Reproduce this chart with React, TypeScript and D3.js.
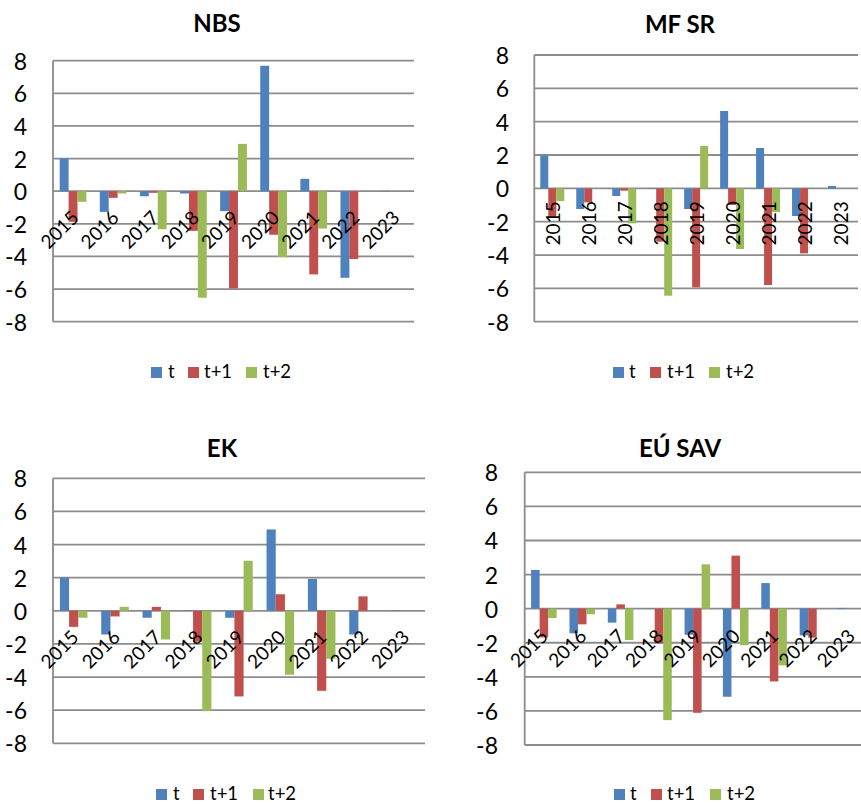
import React from "react";
import * as d3 from "d3";

const years = ["2015", "2016", "2017", "2018", "2019", "2020", "2021", "2022", "2023"];
const seriesNames = ["t", "t+1", "t+2"];
const seriesColors = ["#4F81BD", "#C0504D", "#9BBB59"];
const yTicks = [-8, -6, -4, -2, 0, 2, 4, 6, 8];

// NBS
const nbsT = [2.0, -1.27, -0.31, -0.14, -1.22, 7.69, 0.76, -5.31, 0.03];
const nbsT1 = [-1.88, -0.41, -0.1, -2.43, -5.96, -2.67, -5.1, -4.16, 0];
const nbsT2 = [-0.65, -0.14, -2.33, -6.53, 2.9, -4.04, -2.29, 0, 0];

// MF SR
const mfT = [1.96, -1.24, -0.46, -0.02, -1.24, 4.64, 2.42, -1.66, 0.14];
const mfT1 = [-1.7, -0.84, -0.14, -3.2, -5.94, -1.0, -5.8, -3.9, 0];
const mfT2 = [-0.76, -0.02, -2.1, -6.44, 2.54, -3.64, -1.42, 0, 0];

// EK
const ekT = [2.0, -1.43, -0.42, 0.03, -0.42, 4.91, 1.93, -1.43, 0.03];
const ekT1 = [-0.97, -0.34, 0.24, -1.87, -5.17, 1.0, -4.83, 0.87, 0];
const ekT2 = [-0.42, 0.24, -1.73, -6.06, 3.02, -3.86, -2.9, 0, 0];

// EÚ SAV
const savT = [2.27, -1.45, -0.82, -0.02, -1.53, -5.17, 1.5, -1.57, 0.04];
const savT1 = [-1.69, -0.92, 0.25, -2.04, -6.11, 3.11, -4.27, -1.7, 0];
const savT2 = [-0.55, -0.33, -1.84, -6.54, 2.6, -2.15, -3.33, 0, 0];

type PanelProps = {
    title: string;
    values: number[][];
    box: { x0: number; x1: number; top: number; bottom: number };
    titlePos: [number, number];
    tickRight: number;
    labelRotate: number;
    labelOffset: [number, number];
    legendSquares: number[];
    legendTexts: number[];
    legendBaseline: number;
};

const Panel: React.FC<PanelProps> = ({
    title,
    values,
    box,
    titlePos,
    tickRight,
    labelRotate,
    labelOffset,
    legendSquares,
    legendTexts,
    legendBaseline,
}) => {
    const x = d3.scaleBand<string>().domain(years).range([box.x0, box.x1]).padding(0);
    const w = x.bandwidth();
    const b = w / 4.5; // gap width 150%
    const xs = d3.scaleBand<string>().domain(seriesNames).range([0.75 * b, w - 0.75 * b]).padding(0);
    const y = d3.scaleLinear().domain([-8, 8]).range([box.bottom, box.top]);
    const gridColor = "#8c8c8c";

    return (
        <g>
            <text x={titlePos[0]} y={titlePos[1]} textAnchor="middle" fontWeight="bold" fontSize={24}>
                {title}
            </text>
            {yTicks.map((t) => (
                <g key={t}>
                    <line x1={box.x0} x2={box.x1} y1={y(t)} y2={y(t)} stroke={gridColor} strokeWidth={1.8} />
                    <text x={tickRight} y={y(t)} textAnchor="end" dominantBaseline="central" fontSize={23}>
                        {t}
                    </text>
                </g>
            ))}
            <line x1={box.x0} x2={box.x0} y1={box.top} y2={box.bottom} stroke={gridColor} strokeWidth={1.8} />
            {values.map((vals, si) =>
                vals.map((v, i) => (
                    <rect
                        key={`${si}-${i}`}
                        x={(x(years[i]) ?? 0) + (xs(seriesNames[si]) ?? 0)}
                        y={y(Math.max(v, 0))}
                        width={xs.bandwidth()}
                        height={Math.abs(y(v) - y(0))}
                        fill={seriesColors[si]}
                    />
                ))
            )}
            {years.map((yr) => {
                const cx = (x(yr) ?? 0) + w / 2 + labelOffset[0];
                const cy = y(0) + labelOffset[1];
                return (
                    <text
                        key={yr}
                        x={cx}
                        y={cy}
                        textAnchor="middle"
                        dominantBaseline="central"
                        fontSize={19}
                        transform={`rotate(${labelRotate} ${cx} ${cy})`}
                    >
                        {yr}
                    </text>
                );
            })}
            {seriesNames.map((s, i) => (
                <g key={s}>
                    <rect x={legendSquares[i]} y={legendBaseline - 11} width={11} height={11} fill={seriesColors[i]} />
                    <text x={legendTexts[i]} y={legendBaseline} fontSize={18.5}>
                        {s}
                    </text>
                </g>
            ))}
        </g>
    );
};

export default function App() {
    return (
        <svg
            width={861}
            height={804}
            style={{ position: "absolute", left: 0, top: 0, background: "#fff" }}
            fontFamily="Lato, 'Open Sans', sans-serif"
        >
            <rect width={861} height={804} fill="#fff" />
            <Panel
                title="NBS"
                values={[nbsT, nbsT1, nbsT2]}
                box={{ x0: 53, x1: 414, top: 60.7, bottom: 321.7 }}
                titlePos={[217, 32]}
                tickRight={27}
                labelRotate={-45}
                labelOffset={[-14, 38]}
                legendSquares={[151, 188, 246]}
                legendTexts={[168, 204, 263]}
                legendBaseline={378}
            />
            <Panel
                title="MF SR"
                values={[mfT, mfT1, mfT2]}
                box={{ x0: 534.3, x1: 858, top: 55, bottom: 321.7 }}
                titlePos={[680, 33]}
                tickRight={509}
                labelRotate={-90}
                labelOffset={[0, 35]}
                legendSquares={[613, 650, 709]}
                legendTexts={[629, 667, 726]}
                legendBaseline={378}
            />
            <Panel
                title="EK"
                values={[ekT, ekT1, ekT2]}
                box={{ x0: 53, x1: 425, top: 478.3, bottom: 743.3 }}
                titlePos={[222, 457]}
                tickRight={27}
                labelRotate={-45}
                labelOffset={[-14.7, 38]}
                legendSquares={[156, 193, 253]}
                legendTexts={[173, 210, 268]}
                legendBaseline={800}
            />
            <Panel
                title="EÚ SAV"
                values={[savT, savT1, savT2]}
                box={{ x0: 524.7, x1: 870, top: 472.3, bottom: 745 }}
                titlePos={[680, 457]}
                tickRight={498}
                labelRotate={-45}
                labelOffset={[-15.4, 39]}
                legendSquares={[614, 651, 710]}
                legendTexts={[630, 667, 727]}
                legendBaseline={800}
            />
        </svg>
    );
}
